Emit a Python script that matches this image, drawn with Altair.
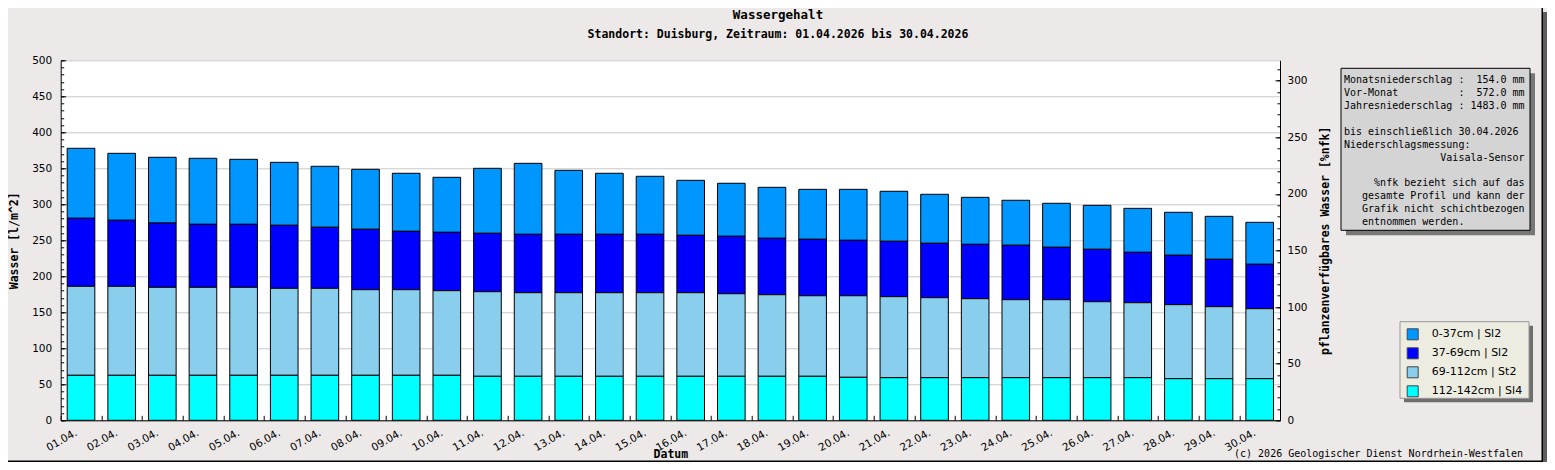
import altair as alt
import pandas as pd

days = ["01.04.", "02.04.", "03.04.", "04.04.", "05.04.", "06.04.", "07.04.", "08.04.",
        "09.04.", "10.04.", "11.04.", "12.04.", "13.04.", "14.04.", "15.04.", "16.04.",
        "17.04.", "18.04.", "19.04.", "20.04.", "21.04.", "22.04.", "23.04.", "24.04.",
        "25.04.", "26.04.", "27.04.", "28.04.", "29.04.", "30.04."]

layer_names = ["0-37cm | Sl2", "37-69cm | Sl2", "69-112cm | St2", "112-142cm | Sl4"]
layer_colors = ["#0096FF", "#0000FF", "#8ACEEE", "#00FFFF"]

# Wassergehalt je Schicht [l/m^2]
w_0_37 = [97.2, 93.0, 91.3, 91.7, 90.3, 87.5, 84.7, 83.3, 80.6, 76.4,
          90.3, 98.6, 88.9, 84.8, 80.6, 76.4, 73.6, 70.8, 69.4, 70.8,
          69.5, 68.1, 65.3, 62.5, 61.1, 61.1, 61.1, 59.7, 59.7, 58.3]
w_37_69 = [94.5, 91.7, 89.3, 87.5, 87.5, 87.5, 84.8, 83.9, 81.1, 81.1,
           81.1, 81.1, 81.1, 81.1, 81.1, 79.7, 79.8, 78.4, 78.4, 77.0,
           76.9, 75.5, 75.5, 75.6, 72.8, 72.8, 70.0, 68.6, 65.8, 61.7]
w_69_112 = [123.6, 123.6, 122.2, 122.2, 122.2, 120.8, 120.8, 118.9, 118.9, 117.5,
            117.5, 116.1, 116.1, 116.1, 116.1, 116.1, 114.7, 113.3, 111.9, 113.3,
            112.5, 111.1, 109.7, 108.3, 108.3, 105.5, 104.1, 102.8, 100.0, 97.2]
w_112_142 = [62.5, 62.5, 62.5, 62.5, 62.5, 62.5, 62.5, 62.5, 62.5, 62.5,
             61.1, 61.1, 61.1, 61.1, 61.1, 61.1, 61.1, 61.1, 61.1, 59.7,
             59.2, 59.2, 59.2, 59.2, 59.2, 59.2, 59.2, 57.8, 57.8, 57.8]

left_ticks = [0, 50, 100, 150, 200, 250, 300, 350, 400, 450, 500]
left_minor = list(range(0, 501, 10))
right_ticks = [0, 50, 100, 150, 200, 250, 300]
right_minor = list(range(0, 311, 10))

# info panel: leading blanks = indentation in character cells (monospace)
info_lines = [
    "Monatsniederschlag :  154.0 mm",
    "Vor-Monat          :  572.0 mm",
    "Jahresniederschlag : 1483.0 mm",
    "",
    "bis einschließlich 30.04.2026",
    "Niederschlagsmessung:",
    "                Vaisala-Sensor",
    "",
    "     %nfk bezieht sich auf das",
    "   gesamte Profil und kann der",
    "   Grafik nicht schichtbezogen",
    "   entnommen werden.",
]

title_text = "Wassergehalt"
subtitle_text = "Standort: Duisburg, Zeitraum: 01.04.2026 bis 30.04.2026"
copyright_text = "(c) 2026 Geologischer Dienst Nordrhein-Westfalen"

# ---------- data table ----------
series = [w_0_37, w_37_69, w_69_112, w_112_142]
order_in_stack = [3, 2, 1, 0]
rows = []
for name, vals, o in zip(layer_names, series, order_in_stack):
    for d, v in zip(days, vals):
        rows.append({"Tag": d, "Wert": v, "Schicht": name, "ord": o})
df = pd.DataFrame(rows)
axis_df = pd.DataFrame({"Tag": days, "v": [0.0] * len(days)})
one = pd.DataFrame({"a": [0]})

SANS = "DejaVu Sans"
MONO = "DejaVu Sans Mono"
W, H = 1219.3, 360

x_scale = alt.Scale(domain=days, paddingInner=0.32, paddingOuter=0.16)
left_scale = alt.Scale(domain=[0, 500], nice=False)
right_scale = alt.Scale(domain=[0, 318], nice=False)

bars = alt.Chart(df).mark_bar(stroke="black", strokeWidth=1).encode(
    x=alt.X("Tag:N", scale=x_scale, sort=days,
            axis=alt.Axis(orient="bottom", offset=-5, domain=False, grid=False,
                          ticks=True, tickSize=5, tickColor="black", tickWidth=1,
                          bandPosition=0, tickOffset=-6.5,
                          labelAngle=330, labelAlign="right", labelBaseline="top",
                          labelOffset=-1.2, labelPadding=7, labelFont=SANS,
                          labelFontSize=10.5, labelColor="black", labelOverlap=False,
                          title="Datum", titleFont=MONO, titleFontSize=11.5,
                          titleFontWeight="bold", titleColor="black",
                          titleX=W / 2, titleY=39.5, titleAlign="center",
                          titleBaseline="middle", zindex=1)),
    y=alt.Y("Wert:Q", stack="zero", scale=left_scale,
            axis=alt.Axis(orient="left", offset=-5, domain=False, grid=False,
                          values=left_ticks, tickSize=5, tickColor="black", tickWidth=1,
                          labelPadding=9, labelFont=SANS, labelFontSize=10.5,
                          labelColor="black",
                          title="Wasser [l/m^2]", titleFont=MONO, titleFontSize=11.5,
                          titleFontWeight="bold", titleColor="black", titleAngle=270,
                          titleX=-50.7, titleY=H / 2, titleAlign="center",
                          titleBaseline="middle", zindex=1)),
    color=alt.Color("Schicht:N",
                    scale=alt.Scale(domain=layer_names, range=layer_colors),
                    legend=alt.Legend(orient="none", legendX=1346, legendY=268,
                                      title=None, padding=0, symbolType="square",
                                      symbolSize=121, symbolStrokeColor="#444444",
                                      symbolStrokeWidth=1, labelFont=SANS,
                                      labelFontSize=11, labelColor="black",
                                      labelOffset=13, rowPadding=3,
                                      labelLimit=200)),
    order=alt.Order("ord:Q", sort="ascending"),
)

frame = alt.Chart(axis_df).mark_point(opacity=0).encode(
    x=alt.X("Tag:N", scale=x_scale, sort=days,
            axis=alt.Axis(orient="bottom", domain=True, domainColor="black",
                          domainWidth=1, ticks=False, labels=False, grid=False,
                          title=None)),
    y=alt.Y("v:Q", scale=left_scale,
            axis=alt.Axis(orient="left", domain=True, domainColor="black",
                          domainWidth=1, ticks=False, labels=False, grid=True,
                          gridColor="#C8C8C8", gridWidth=1, values=left_ticks,
                          title=None)),
)

left_minor_axis = alt.Chart(axis_df).mark_point(opacity=0).encode(
    y=alt.Y("v:Q", scale=left_scale,
            axis=alt.Axis(orient="left", offset=-3, domain=False, grid=False,
                          labels=False, values=left_minor, tickSize=3,
                          tickColor="black", tickWidth=1, title=None, zindex=1)),
)

right_axis = alt.Chart(axis_df).mark_point(opacity=0).encode(
    y=alt.Y("v:Q", scale=right_scale,
            axis=alt.Axis(orient="right", offset=-5, domain=False, grid=False,
                          values=right_ticks, tickSize=5, tickColor="black", tickWidth=1,
                          labelPadding=7, labelFont=SANS, labelFontSize=10.5,
                          labelColor="black",
                          title="pflanzenverfügbares Wasser [%nfk]", titleFont=MONO,
                          titleFontSize=11.5, titleFontWeight="bold",
                          titleColor="black", titleAngle=270, titleX=50,
                          titleY=H / 2, titleAlign="center", titleBaseline="middle",
                          zindex=1)),
)

right_minor_axis = alt.Chart(axis_df).mark_point(opacity=0).encode(
    y=alt.Y("v:Q", scale=right_scale,
            axis=alt.Axis(orient="right", offset=-3, domain=False, grid=False,
                          labels=False, values=right_minor, tickSize=3,
                          tickColor="black", tickWidth=1, title=None, zindex=1)),
)

right_frame = alt.Chart(axis_df).mark_point(opacity=0).encode(
    y=alt.Y("v:Q", scale=right_scale,
            axis=alt.Axis(orient="right", domain=True, domainColor="black",
                          domainWidth=1, ticks=False, labels=False, grid=False,
                          title=None)),
)

# ---------- decorations ----------
def box(x1, x2, y1, y2, fill, stroke=None):
    kw = {"fill": fill}
    if stroke:
        kw.update(stroke=stroke, strokeWidth=1)
    return alt.Chart(one).mark_rect(**kw).encode(
        x=alt.value(x1), x2=alt.value(x2), y=alt.value(y1), y2=alt.value(y2))

# outer picture frame (right / bottom edge with shadow)
frame_shadow = box(1482.3, 1486.3, -48.3, 401.7, "#5E5E5E")
frame_right = box(1480.8, 1482.3, -52.3, 401.7, "#000000")
frame_bottom = box(-52.7, 1482.3, 400.2, 401.7, "#000000")

info_shadow = box(1285.3, 1474.3, 13, 175, "#777777")
info_box = box(1280.3, 1469.3, 8, 170, "#D4D4D4", "black")

CHAR_W = 6.02
info_marks = []
for i, line in enumerate(info_lines):
    if not line.strip():
        continue
    indent = len(line) - len(line.lstrip(" "))
    shown = line.strip().replace(" ", "\u00a0")
    info_marks.append(
        alt.Chart(one).mark_text(
            text=shown, font=MONO, fontSize=10, align="left",
            baseline="middle", color="black"
        ).encode(x=alt.value(1283.3 + indent * CHAR_W), y=alt.value(19.9 + 12.9 * i))
    )

legend_shadow = box(1343.3, 1472.3, 265.4, 342, "#6E6E6E")
legend_box = box(1339.3, 1468.3, 261.4, 338, "#ECECE1", "#999999")

title = alt.Chart(one).mark_text(
    text=title_text, font=MONO, fontSize=12.5, fontWeight="bold", align="center",
    baseline="alphabetic", color="black").encode(x=alt.value(717.3), y=alt.value(-41))
subtitle = alt.Chart(one).mark_text(
    text=subtitle_text, font=MONO, fontSize=11.5, fontWeight="bold", align="center",
    baseline="alphabetic", color="black").encode(x=alt.value(717.3), y=alt.value(-22.6))
copyright_mark = alt.Chart(one).mark_text(
    text=copyright_text, font=MONO, fontSize=10, align="right", baseline="middle",
    color="black").encode(x=alt.value(1462.3), y=alt.value(393.7))

chart = alt.layer(
    frame_shadow, frame_right, frame_bottom,
    info_shadow, info_box, *info_marks, legend_shadow, legend_box,
    title, subtitle, copyright_mark,
    frame, bars, left_minor_axis, right_axis, right_minor_axis, right_frame,
).resolve_scale(
    y="independent"
).resolve_axis(
    x="independent", y="independent"
).properties(
    width=W, height=H,
    padding={"left": 52.7, "top": 52.3, "right": 267, "bottom": 41.7},
    autosize=alt.AutoSizeParams(type="none"),
    background="#ECE9E8",
).configure_view(
    fill="white", stroke=None
)

chart.save("out.html", embed_options={"renderer": "svg", "actions": False})
